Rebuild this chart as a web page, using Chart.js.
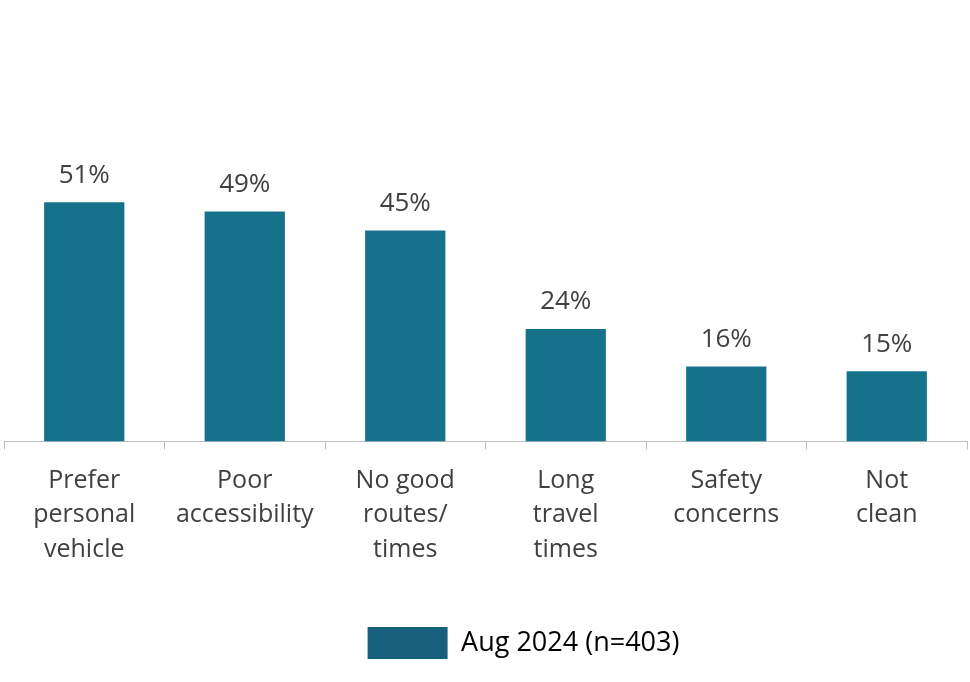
<!DOCTYPE html>
<html>
<head>
<meta charset="utf-8">
<script src="https://cdn.jsdelivr.net/npm/chart.js@4"></script>
<style>
  html, body { margin: 0; padding: 0; background: #fff; }
  #wrap { width: 970px; height: 682px; position: relative; }
</style>
</head>
<body>
<div id="wrap"><canvas id="chart" width="970" height="682"></canvas></div>
<script>
const categories = [
  ['Prefer', 'personal', 'vehicle'],
  ['Poor', 'accessibility'],
  ['No good', 'routes/', 'times'],
  ['Long', 'travel', 'times'],
  ['Safety', 'concerns'],
  ['Not', 'clean']
];
const seriesName = 'Aug 2024 (n=403)';
const values = [51, 49, 45, 24, 16, 15];

const textColor = '#404040';
const fontFamily = '"Open Sans", sans-serif';

// simple value labels above the bars
const valueLabels = {
  id: 'valueLabels',
  afterDatasetsDraw(chart) {
    const ctx = chart.ctx;
    const meta = chart.getDatasetMeta(0);
    ctx.save();
    ctx.fillStyle = textColor;
    ctx.font = '26px ' + fontFamily;
    ctx.textAlign = 'center';
    ctx.textBaseline = 'middle';
    meta.data.forEach((bar, i) => {
      ctx.fillText(values[i] + '%', bar.x, bar.y - 27);
    });
    ctx.restore();
  }
};

// the legend sits a bit right of centre in the original
const nudgeLegend = {
  id: 'nudgeLegend',
  afterLayout(chart) {
    chart.legend.left += 38;
    chart.legend.right += 38;
  }
};

new Chart(document.getElementById('chart'), {
  type: 'bar',
  data: {
    labels: categories,
    datasets: [{
      label: seriesName,
      data: values,
      backgroundColor: '#16728a',
      categoryPercentage: 1,
      barPercentage: 0.5
    }]
  },
  options: {
    responsive: false,
    animation: false,
    layout: { padding: { top: 160, left: 4, right: 3, bottom: 13 } },
    plugins: {
      tooltip: { enabled: false },
      legend: {
        position: 'bottom',
        labels: {
          boxWidth: 80,
          boxHeight: 32,
          color: textColor,
          font: { size: 27, family: fontFamily },
          padding: 46,
          generateLabels: () => [{
            text: seriesName,
            fillStyle: '#17607d',
            strokeStyle: '#17607d',
            lineWidth: 0,
            datasetIndex: 0
          }]
        }
      }
    },
    scales: {
      x: {
        grid: {
          offset: true,
          drawOnChartArea: false,
          drawTicks: true,
          tickLength: 8,
          color: '#bfbfbf'
        },
        border: { color: '#bfbfbf', width: 1 },
        ticks: {
          color: textColor,
          font: { size: 25, family: fontFamily, lineHeight: 1.38 },
          maxRotation: 0,
          padding: 14
        }
      },
      y: {
        display: false,
        min: 0,
        max: 60
      }
    }
  },
  plugins: [valueLabels, nudgeLegend]
});
</script>
</body>
</html>
